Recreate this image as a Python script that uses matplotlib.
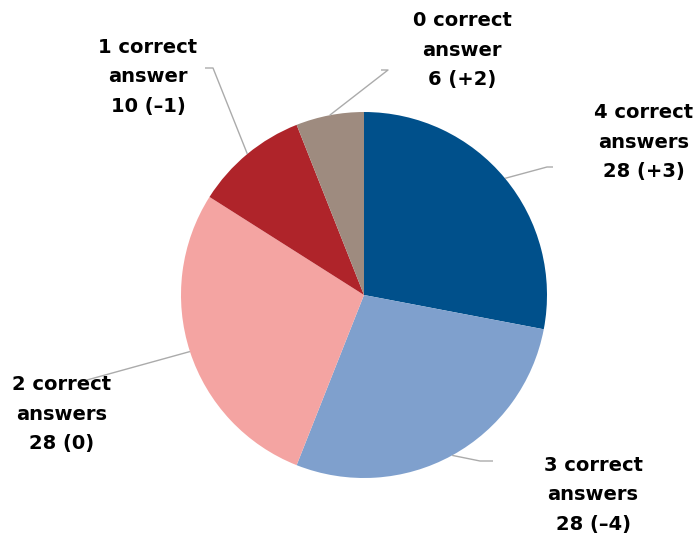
import numpy as np
import matplotlib
matplotlib.use("Agg")
from matplotlib import pyplot as plt

# data, clockwise from 12 o'clock
labels = ["4 correct\nanswers", "3 correct\nanswers", "2 correct\nanswers",
          "1 correct\nanswer", "0 correct\nanswer"]
values = [28, 28, 28, 10, 6]
changes = ["+3", "\u20134", "0", "\u20131", "+2"]
colors = ["#00508B", "#7FA0CD", "#F4A4A2", "#AF242A", "#9E8B7F"]

W, H = 697, 537
fig = plt.figure(figsize=(W / 100, H / 100), dpi=100)
ax = fig.add_axes([0, 0, 1, 1])

cx, cy, r = 364, H - 295, 183
wedges, _ = ax.pie(values, colors=colors, startangle=90, counterclock=False,
                   radius=r, center=(cx, cy), frame=True,
                   wedgeprops=dict(linewidth=0))
ax.set_xlim(0, W)
ax.set_ylim(0, H)
ax.set_aspect("equal")
ax.axis("off")

# label text centres and leader elbows (image px, y down)
text_pos = [(644, 142), (593, 495), (62, 414), (148, 77), (462, 50)]
elbows = [[(547, 167), (553, 167)],
          [(480, 461), (493, 461)],
          [(87, 380)],
          [(213, 68), (205, 68)],
          [(388, 70), (381, 70)]]

for w, lab, v, ch, tp, el in zip(wedges, labels, values, changes, text_pos, elbows):
    mid = np.deg2rad((w.theta1 + w.theta2) / 2)
    px = cx + r * np.cos(mid)
    py = cy + r * np.sin(mid)
    xs = [px] + [p[0] for p in el]
    ys = [py] + [H - p[1] for p in el]
    ax.plot(xs, ys, color="#ABABAB", lw=1.0, solid_capstyle="butt")
    ax.text(tp[0], H - tp[1], "%s\n%d (%s)" % (lab, v, ch), ha="center", va="center",
            fontsize=14, fontweight="bold", color="#000000", linespacing=1.68,
            family="DejaVu Sans")

fig.savefig("out.png", dpi=100, facecolor="white")
